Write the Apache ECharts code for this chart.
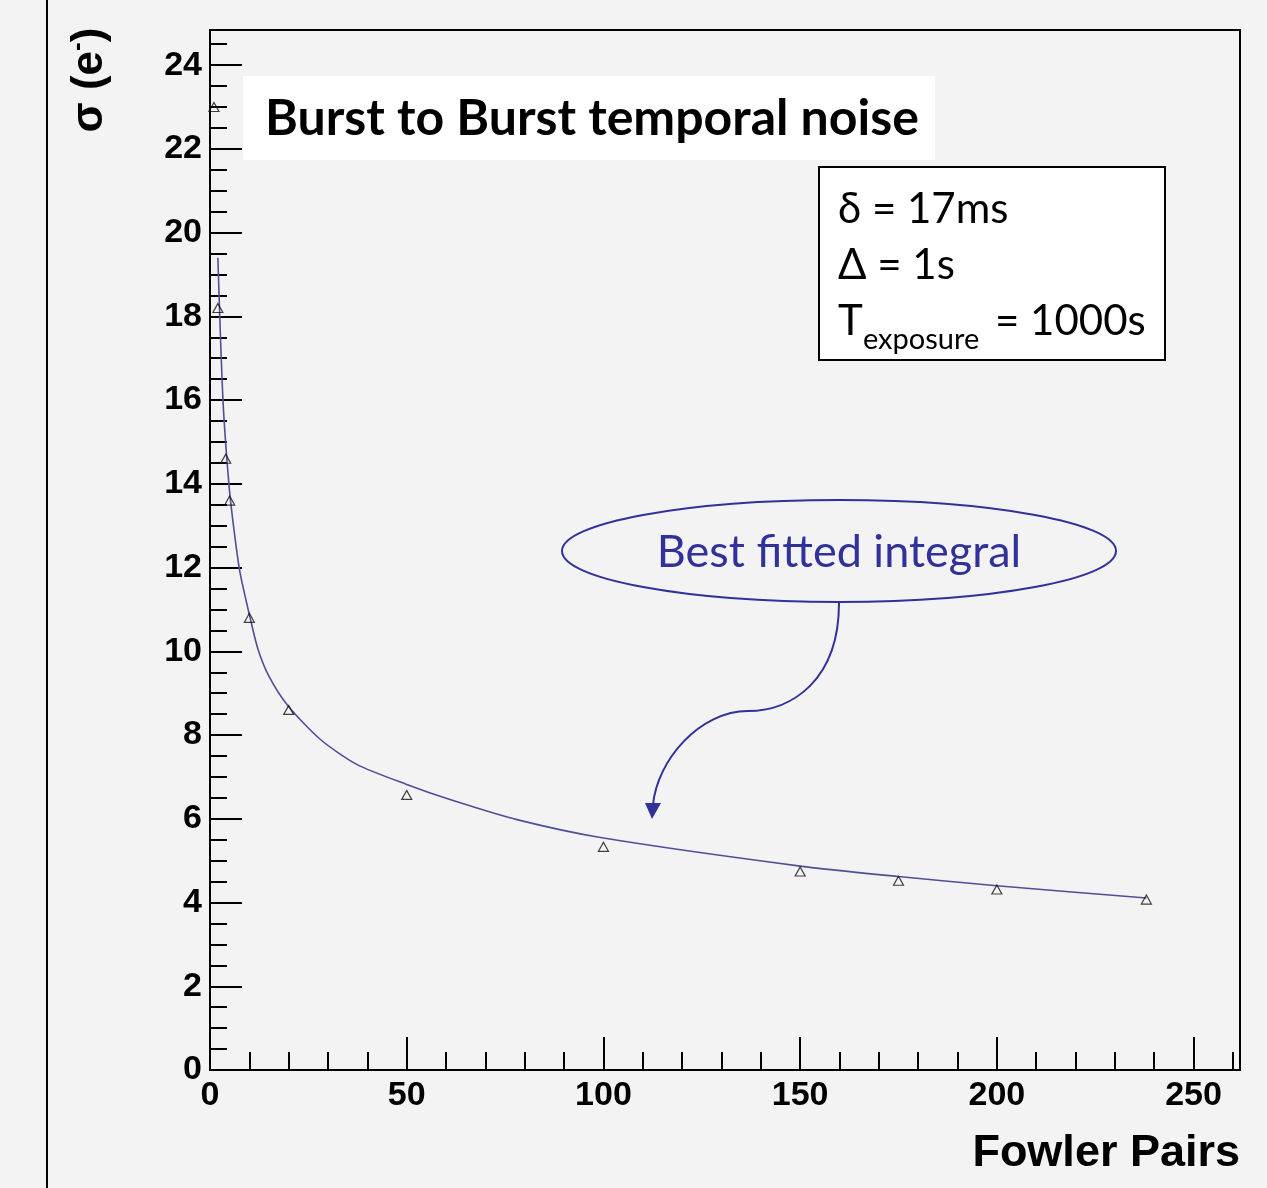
<!DOCTYPE html>
<html>
<head>
<meta charset="utf-8">
<title>Burst to Burst temporal noise</title>
<script src="https://cdn.jsdelivr.net/npm/echarts@6/dist/echarts.min.js"></script>
<style>
  html, body { margin: 0; padding: 0; background: #f3f3f3; }
  #main { width: 1267px; height: 1188px; }
</style>
</head>
<body>
<div id="main"></div>
<script>
// measured points (triangles)
const pairs = [1, 2, 4, 5, 10, 20, 50, 100, 150, 175, 200, 238];
const sigma = [23.0, 18.2, 14.6, 13.6, 10.8, 8.6, 6.57, 5.33, 4.74, 4.52, 4.31, 4.07];

// best fitted curve
const fitX = [2, 3.3, 4.8, 6.1, 7.6, 10.2, 12.2, 15, 19.8, 28, 37.3, 50, 61, 78, 100, 150, 175, 200, 238];
const fitY = [19.4, 16.0, 14.0, 12.9, 11.9, 10.8, 10.05, 9.4, 8.7, 7.9, 7.3, 6.82, 6.46, 5.98, 5.54, 4.87, 4.62, 4.40, 4.11];

// ticks
const xMajor = [0, 50, 100, 150, 200, 250];
const xMinor = [10, 20, 30, 40, 60, 70, 80, 90, 110, 120, 130, 140, 160, 170, 180, 190, 210, 220, 230, 240, 260];
const yMajor = [0, 2, 4, 6, 8, 10, 12, 14, 16, 18, 20, 22, 24];
const yMinor = [0.5, 1, 1.5, 2.5, 3, 3.5, 4.5, 5, 5.5, 6.5, 7, 7.5, 8.5, 9, 9.5, 10.5, 11, 11.5,
  12.5, 13, 13.5, 14.5, 15, 15.5, 16.5, 17, 17.5, 18.5, 19, 19.5, 20.5, 21, 21.5, 22.5, 23, 23.5, 24.5];

const X_MAX = 261.8;
const Y_MAX = 24.84;
const BLUE = '#31319a';
const labelFont = { color: '#000', fontFamily: 'Liberation Sans', fontWeight: 'bold', fontSize: 34 };

let myChart = echarts.init(document.getElementById('main'), null, { renderer: 'canvas' });

myChart.setOption({
  backgroundColor: '#f3f3f3',
  animation: false,
  grid: {
    left: 210, top: 30, right: 27, bottom: 118,
    show: true, borderColor: '#000', borderWidth: 2, backgroundColor: 'transparent'
  },
  xAxis: [
    {
      type: 'value', min: 0, max: X_MAX, position: 'bottom',
      axisLine: { show: true, lineStyle: { color: '#000', width: 2 } },
      axisTick: { show: true, inside: true, length: 33, customValues: xMajor, lineStyle: { color: '#000', width: 2 } },
      axisLabel: Object.assign({ margin: 9, customValues: xMajor }, labelFont),
      splitLine: { show: false }
    },
    {
      type: 'value', min: 0, max: X_MAX, position: 'bottom',
      axisLine: { show: false },
      axisTick: { show: true, inside: true, length: 18, customValues: xMinor, lineStyle: { color: '#000', width: 2 } },
      axisLabel: { show: false },
      splitLine: { show: false }
    }
  ],
  yAxis: [
    {
      type: 'value', min: 0, max: Y_MAX, position: 'left',
      axisLine: { show: true, lineStyle: { color: '#000', width: 2 } },
      axisTick: { show: true, inside: true, length: 32, customValues: yMajor, lineStyle: { color: '#000', width: 2 } },
      axisLabel: Object.assign({ margin: 8, customValues: yMajor }, labelFont),
      splitLine: { show: false }
    },
    {
      type: 'value', min: 0, max: Y_MAX, position: 'left',
      axisLine: { show: false },
      axisTick: { show: true, inside: true, length: 17, customValues: yMinor, lineStyle: { color: '#000', width: 2 } },
      axisLabel: { show: false },
      splitLine: { show: false }
    }
  ],
  series: [
    {
      name: 'fit',
      type: 'line',
      xAxisIndex: 0, yAxisIndex: 0,
      data: fitX.map((x, i) => [x, fitY[i]]),
      showSymbol: false,
      smooth: 0.25,
      lineStyle: { color: '#4f4f98', width: 1.6 },
      z: 2
    },
    {
      name: 'data',
      type: 'scatter',
      xAxisIndex: 0, yAxisIndex: 0,
      data: pairs.map((x, i) => [x, sigma[i]]),
      symbol: 'triangle',
      symbolSize: [10, 9],
      itemStyle: { color: 'rgba(0,0,0,0)', borderColor: '#111', borderWidth: 1.2 },
      z: 3
    }
  ],
  graphic: [
    // page edge on the left
    { type: 'line', shape: { x1: 47, y1: 0, x2: 47, y2: 1188 }, style: { stroke: '#000', lineWidth: 2 } },
    // y axis title
    {
      type: 'text', x: 90, y: 80, rotation: Math.PI / 2,
      style: {
        text: '{a|σ (e}{s|-}{a|)}', align: 'center', verticalAlign: 'middle',
        rich: {
          a: { fontFamily: 'Liberation Sans', fontWeight: 'bold', fontSize: 44, fill: '#000', lineHeight: 50 },
          s: { fontFamily: 'Liberation Sans', fontWeight: 'bold', fontSize: 26, fill: '#000', verticalAlign: 'top', lineHeight: 50 }
        }
      }
    },
    // x axis title
    {
      type: 'text', x: 1240, y: 1154,
      style: { text: 'Fowler Pairs', align: 'right', verticalAlign: 'middle', fontFamily: 'Liberation Sans', fontWeight: 'bold', fontSize: 45, fill: '#000' }
    },
    // title box
    { type: 'rect', shape: { x: 243, y: 76, width: 692, height: 84 }, style: { fill: '#fff' } },
    {
      type: 'text', x: 265, y: 119,
      style: { text: 'Burst to Burst temporal noise', verticalAlign: 'middle', fontFamily: 'Lato', fontWeight: 'bold', fontSize: 50, fill: '#000' }
    },
    // parameter box
    { type: 'rect', shape: { x: 819, y: 167, width: 346, height: 193 }, style: { fill: '#fff', stroke: '#000', lineWidth: 2 } },
    { type: 'text', x: 838, y: 209, style: { text: 'δ = 17ms', verticalAlign: 'middle', fontFamily: 'Lato', fontSize: 42, fill: '#000' } },
    { type: 'text', x: 838, y: 265, style: { text: 'Δ = 1s', verticalAlign: 'middle', fontFamily: 'Lato', fontSize: 42, fill: '#000' } },
    { type: 'text', x: 838, y: 321, style: { text: 'T', verticalAlign: 'middle', fontFamily: 'Lato', fontSize: 42, fill: '#000' } },
    { type: 'text', x: 863, y: 340, style: { text: 'exposure', verticalAlign: 'middle', fontFamily: 'Lato', fontSize: 29, fill: '#000' } },
    { type: 'text', x: 995, y: 321, style: { text: '= 1000s', verticalAlign: 'middle', fontFamily: 'Lato', fontSize: 42, fill: '#000' } },
    // callout
    { type: 'ellipse', shape: { cx: 839, cy: 551, rx: 277, ry: 51 }, style: { fill: 'none', stroke: BLUE, lineWidth: 2 } },
    {
      type: 'text', x: 839, y: 552,
      style: { text: 'Best fitted integral', align: 'center', verticalAlign: 'middle', fontFamily: 'Lato', fontSize: 45, fill: BLUE }
    },
    {
      type: 'bezierCurve',
      shape: { x1: 839, y1: 603, cpx1: 839, cpy1: 680, cpx2: 792, cpy2: 711, x2: 748, y2: 711 },
      style: { fill: 'none', stroke: BLUE, lineWidth: 2 }
    },
    {
      type: 'bezierCurve',
      shape: { x1: 748, y1: 711, cpx1: 700, cpy1: 711, cpx2: 657, cpy2: 760, x2: 653, y2: 805 },
      style: { fill: 'none', stroke: BLUE, lineWidth: 2 }
    },
    { type: 'polygon', shape: { points: [[645, 803], [661, 803], [652, 819]] }, style: { fill: BLUE } }
  ]
});
</script>
</body>
</html>
